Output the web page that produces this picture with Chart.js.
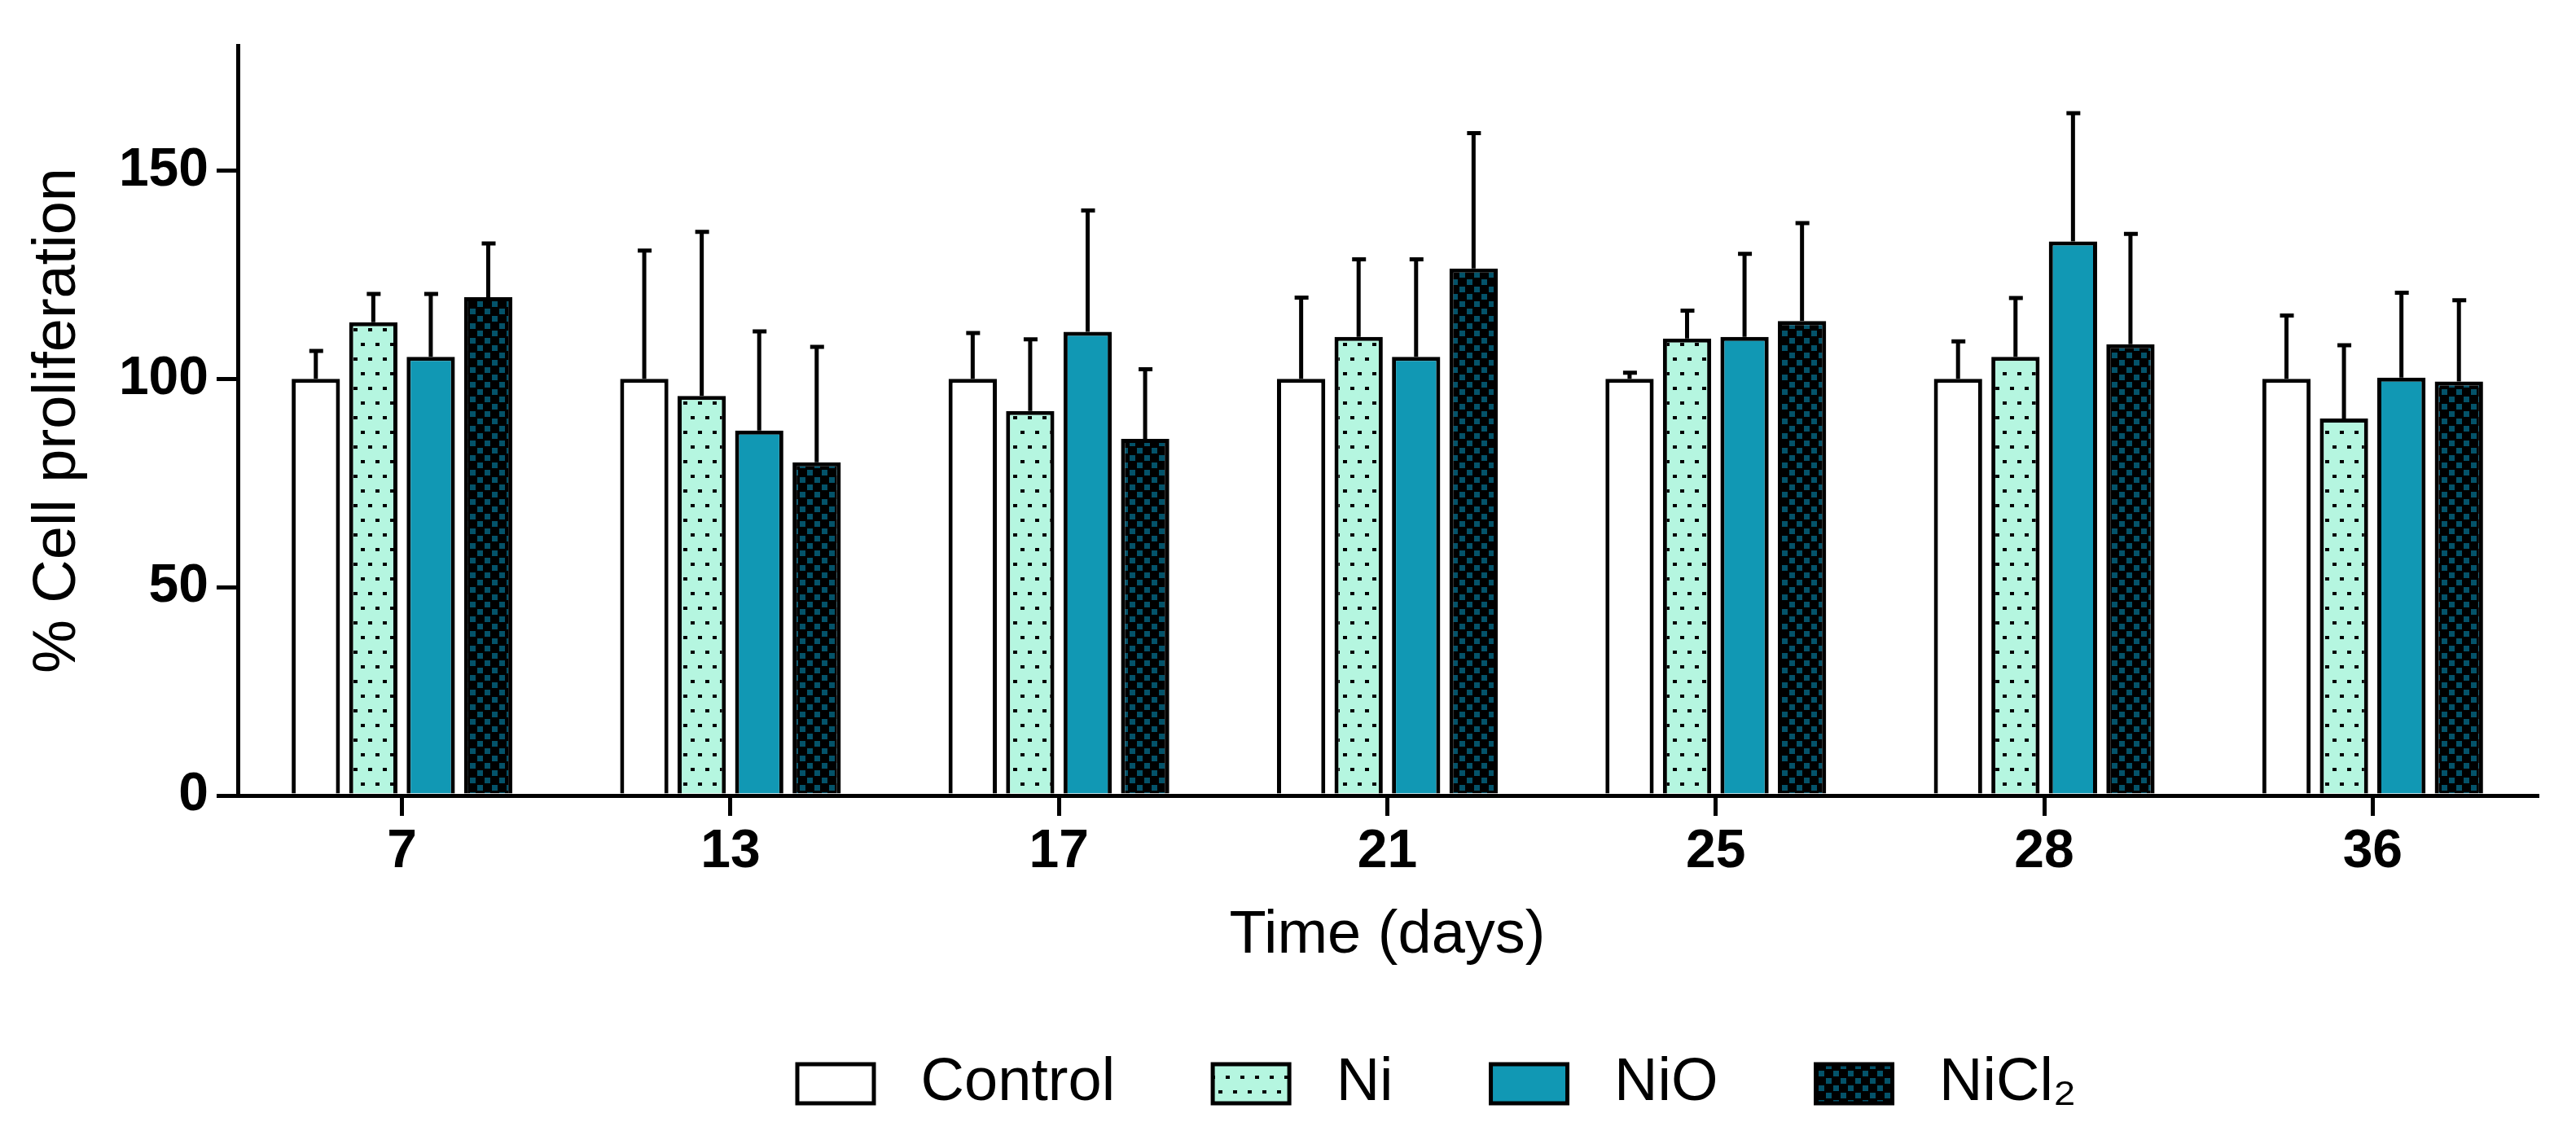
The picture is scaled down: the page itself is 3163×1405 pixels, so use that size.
<!DOCTYPE html>
<html>
<head>
<meta charset="utf-8">
<script src="https://cdn.jsdelivr.net/npm/chart.js@4.4.1/dist/chart.umd.min.js"></script>
<style>
  html, body { margin: 0; padding: 0; background: #fff; overflow: hidden; }
</style>
</head>
<body>
<canvas id="chart" width="3163" height="1405"></canvas>
<script>
// days
const days = ['7', '13', '17', '21', '25', '28', '36'];

// mean % cell proliferation
const control = [100, 100, 100, 100, 100, 100, 100];
const ni      = [113.6, 95.9, 92.3, 110.1, 109.7, 105.3, 90.5];
const nio     = [105.3, 87.6, 111.3, 105.3, 110.1, 133.0, 100.3];
const nicl2   = [119.6, 80.0, 85.6, 126.5, 113.9, 108.3, 99.4];

// upper error (SD)
const controlErr = [6.7, 30.8, 11.0, 19.5, 1.5, 9.0, 15.2];
const niErr      = [6.8, 39.4, 17.2, 18.6, 6.7, 14.1, 17.6];
const nioErr     = [15.1, 23.8, 29.1, 23.4, 19.9, 30.8, 20.4];
const nicl2Err   = [12.9, 27.7, 16.7, 32.5, 23.5, 26.5, 19.5];

const yTicks = [0, 50, 100, 150];

// fill patterns
function dotPattern() {
  const c = document.createElement('canvas');
  c.width = 18; c.height = 36;
  const g = c.getContext('2d');
  g.fillStyle = '#b5f6e0';
  g.fillRect(0, 0, 18, 36);
  g.fillStyle = '#000';
  g.fillRect(2, 7, 5, 4);
  g.fillRect(11, 25, 5, 4);
  return g.createPattern(c, 'repeat');
}

function checkPattern() {
  const c = document.createElement('canvas');
  c.width = 18; c.height = 18;
  const g = c.getContext('2d');
  g.fillStyle = '#000';
  g.fillRect(0, 0, 18, 18);
  g.fillStyle = '#04536a';
  g.fillRect(1, 1, 7, 7);
  g.fillRect(10, 10, 7, 7);
  return g.createPattern(c, 'repeat');
}

Chart.defaults.font.family = "'Liberation Sans', Arial, sans-serif";
Chart.defaults.color = '#000';

// one-sided error bars, drawn on top of the bars
const errorBars = {
  id: 'errorBars',
  afterDatasetsDraw(chart) {
    const ctx = chart.ctx;
    const y = chart.scales.y;
    ctx.save();
    ctx.strokeStyle = '#000';
    ctx.lineWidth = 5;
    chart.data.datasets.forEach((ds, i) => {
      const meta = chart.getDatasetMeta(i);
      meta.data.forEach((bar, j) => {
        const top = y.getPixelForValue(ds.data[j] + ds.errors[j]);
        ctx.beginPath();
        ctx.moveTo(bar.x, bar.y);
        ctx.lineTo(bar.x, top);
        ctx.moveTo(bar.x - 8, top);
        ctx.lineTo(bar.x + 9, top);
        ctx.stroke();
      });
    });
    ctx.restore();
  }
};

// the legend sits a bit right of centre in the original
const legendShift = {
  id: 'legendShift',
  afterLayout(chart) {
    chart.legend.left = 979 - 120;
  }
};

const base = { borderColor: '#000', borderWidth: 5 };

new Chart(document.getElementById('chart'), {
  type: 'bar',
  data: {
    labels: days,
    datasets: [
      { ...base, label: 'Control', data: control, errors: controlErr, backgroundColor: '#ffffff' },
      { ...base, label: 'Ni', data: ni, errors: niErr, backgroundColor: dotPattern() },
      { ...base, label: 'NiO', data: nio, errors: nioErr, backgroundColor: '#1198b4' },
      { ...base, label: 'NiCl₂', data: nicl2, errors: nicl2Err, backgroundColor: checkPattern() }
    ]
  },
  options: {
    responsive: false,
    devicePixelRatio: 1,
    animation: false,
    categoryPercentage: 0.70,
    barPercentage: 0.84,
    layout: { padding: { top: 56, right: 48, bottom: 27, left: 10 } },
    plugins: {
      tooltip: { enabled: false },
      legend: {
        position: 'bottom',
        align: 'start',
        labels: {
          boxWidth: 94,
          boxHeight: 48,
          padding: 120,
          font: { size: 74 },
          generateLabels(chart) {
            return Chart.defaults.plugins.legend.labels.generateLabels(chart)
              .map(l => ({ ...l, text: ' ' + l.text }));
          }
        }
      }
    },
    scales: {
      x: {
        z: 1,
        offset: true,
        grid: { display: true, offset: false, drawOnChartArea: false, drawTicks: true, tickLength: 25, lineWidth: 5, color: '#000' },
        border: { display: true, width: 5, color: '#000' },
        ticks: { font: { size: 66, weight: 'bold' }, padding: 5, color: '#000' },
        title: { display: true, text: 'Time (days)', font: { size: 74, lineHeight: 0.65 }, padding: 0, color: '#000' },
        afterFit(scale) { scale.height = 197; }
      },
      y: {
        min: 0,
        max: 180,
        grid: { display: true, drawOnChartArea: false, drawTicks: true, tickLength: 26, lineWidth: 5, color: '#000' },
        border: { display: true, width: 5, color: '#000' },
        ticks: {
          stepSize: 50,
          includeBounds: false,
          padding: 10,
          font: { size: 66, weight: 'bold' },
          color: '#000',
          callback: (v) => yTicks.includes(v) ? String(v) : null
        },
        title: { display: true, text: '% Cell proliferation', font: { size: 74 }, padding: { top: 17, bottom: 0 }, color: '#000' },
        afterFit(scale) { scale.width = 282; }
      }
    }
  },
  plugins: [errorBars, legendShift]
});
</script>
</body>
</html>
